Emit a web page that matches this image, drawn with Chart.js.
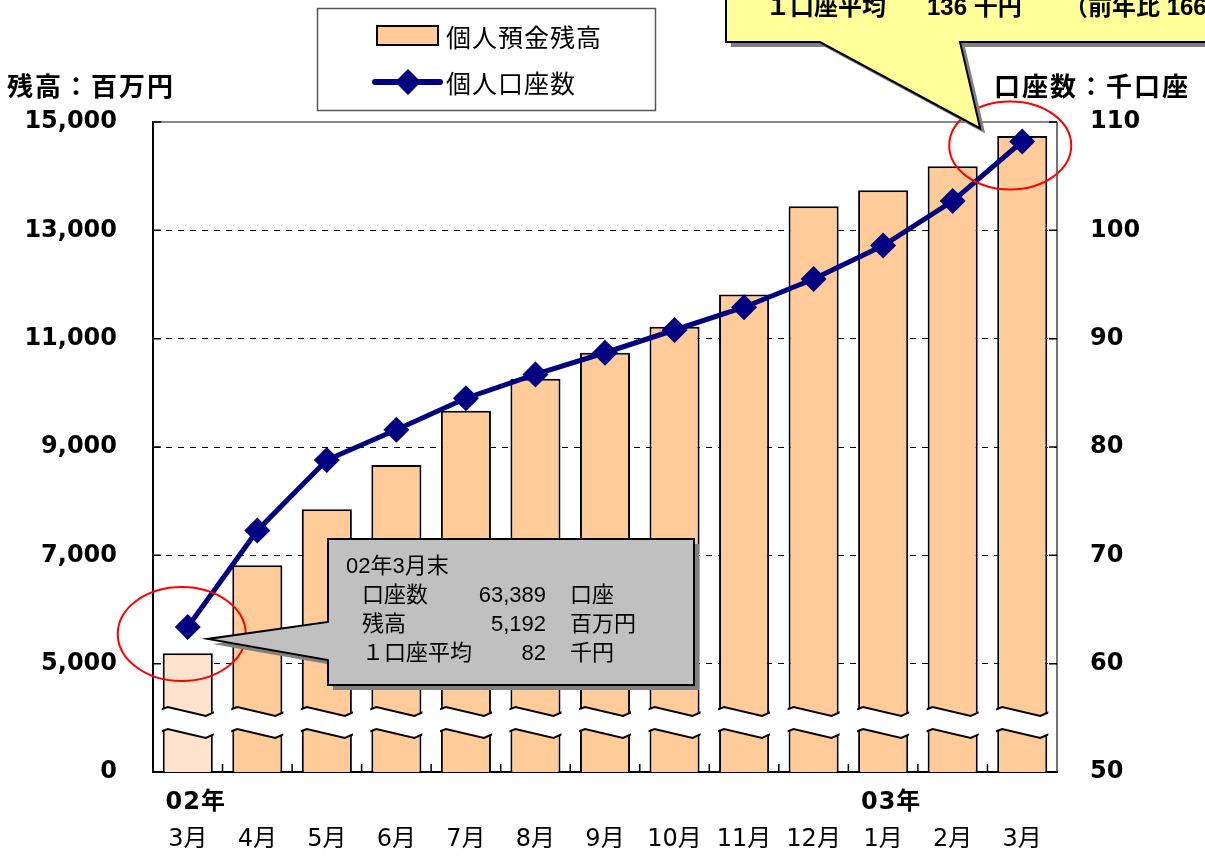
<!DOCTYPE html>
<html>
<head>
<meta charset="utf-8">
<script src="https://cdn.jsdelivr.net/npm/chart.js@4"></script>
<style>
  html, body { margin: 0; padding: 0; background: #fff; }
  canvas { display: block; }
</style>
</head>
<body>
<canvas id="myChart" width="1205" height="856"></canvas>
<script>
// monthly figures, Mar 2002 - Mar 2003
const months = ["3月", "4月", "5月", "6月", "7月", "8月", "9月", "10月", "11月", "12月", "1月", "2月", "3月"];
const years = ["02年", "", "", "", "", "", "", "", "", "", "03年", "", ""];
const balances = [5192, 6815, 7852, 8667, 9667, 10259, 10741, 11222, 11815, 13444, 13741, 14185, 14741]; // 百万円
const accounts = [63.389, 72.3, 78.8, 81.6, 84.5, 86.7, 88.7, 90.8, 92.9, 95.5, 98.6, 102.7, 108.2]; // 千口座
const leftTickLabels = ["0", "5,000", "7,000", "9,000", "11,000", "13,000", "15,000"];
const rightTickLabels = ["50", "60", "70", "80", "90", "100", "110"];

const JP = "'Noto Sans CJK JP', sans-serif";
const NUM = "'DejaVu Sans', 'Noto Sans CJK JP', sans-serif";
const TXT = "'Liberation Sans', 'Noto Sans CJK JP', sans-serif";
const NAVY = "#000080";
const PEACH = "#FFCC99";

const barColors = balances.map((v, i) => (i === 0 ? "#FDE3CD" : PEACH));

// diamond marker
function diamond(c, x, y, r) {
  c.beginPath();
  c.moveTo(x, y - r);
  c.lineTo(x + r, y);
  c.lineTo(x, y + r);
  c.lineTo(x - r, y);
  c.closePath();
  c.fill();
}

// frame, inner ticks and the wavy axis break across every bar
const breakPlugin = {
  id: "breakPlugin",
  afterDatasetsDraw(chart) {
    const c = chart.ctx;
    const a = chart.chartArea;
    const meta = chart.getDatasetMeta(1);
    const yT = a.bottom - 65;
    const gap = 22;
    c.save();
    meta.data.forEach((bar, i) => {
      const w = bar.width;
      const xL = bar.x - w / 2;
      const xR = bar.x + w / 2;
      const l = i === 0 ? a.left + 1 : xL - 8;
      const top = [[l, yT + 5], [xL + 5, yT], [xR - 7, yT + 9], [xR + 4, yT + 4]];
      const bot = top.map(p => [p[0], p[1] + gap]);
      c.fillStyle = "#fff";
      c.beginPath();
      top.forEach((p, k) => (k ? c.lineTo(p[0], p[1]) : c.moveTo(p[0], p[1])));
      for (let k = bot.length - 1; k >= 0; k--) c.lineTo(bot[k][0], bot[k][1]);
      c.closePath();
      c.fill();
      c.strokeStyle = "#000";
      c.lineWidth = 2;
      c.save();
      c.beginPath();
      c.rect(xL - 1, 0, w + 2, chart.height);
      c.clip();
      [top, bot].forEach(line => {
        c.beginPath();
        line.forEach((p, k) => (k ? c.lineTo(p[0], p[1]) : c.moveTo(p[0], p[1])));
        c.stroke();
      });
      c.restore();
    });

    // top and right frame
    c.strokeStyle = "#888";
    c.lineWidth = 2;
    c.beginPath();
    c.moveTo(a.left, a.top);
    c.lineTo(a.right, a.top);
    c.stroke();
    c.strokeStyle = "#444";
    c.lineWidth = 1.5;
    c.beginPath();
    c.moveTo(a.right, a.top);
    c.lineTo(a.right, a.bottom);
    c.stroke();

    // inner tick marks
    c.strokeStyle = "#000";
    c.lineWidth = 1.5;
    const yl = chart.scales.y;
    yl.ticks.forEach(t => {
      const y = yl.getPixelForValue(t.value);
      c.beginPath();
      c.moveTo(a.left, y);
      c.lineTo(a.left + 8, y);
      c.moveTo(a.right, y);
      c.lineTo(a.right - 8, y);
      c.stroke();
    });
    const n = months.length;
    for (let i = 1; i < n; i++) {
      const x = a.left + (a.right - a.left) * i / n;
      c.beginPath();
      c.moveTo(x, a.bottom);
      c.lineTo(x, a.bottom - 8);
      c.stroke();
    }
    c.restore();
  },
  afterDraw(chart) {
    const c = chart.ctx;
    const xs = chart.scales.x;
    const lineMeta = chart.getDatasetMeta(0);
    c.save();

    // year row under the month labels
    c.fillStyle = "#000";
    c.font = "bold 24px " + NUM;
    c.textAlign = "center";
    c.textBaseline = "middle";
    c.letterSpacing = "1px";
    years.forEach((yr, i) => {
      if (yr) c.fillText(yr, xs.getPixelForValue(i) + 8, 803);
    });

    // axis titles
    c.font = "bold 26px " + JP;
    c.textAlign = "left";
    c.letterSpacing = "2px";
    c.fillText("残高：百万円", 7, 86);
    c.fillText("口座数：千口座", 994, 86);
    c.letterSpacing = "0px";

    // legend
    c.fillStyle = "#fff";
    c.fillRect(317, 8, 338, 102);
    c.strokeStyle = "#555";
    c.lineWidth = 1.5;
    c.strokeRect(317.5, 8.5, 338, 102);
    c.fillStyle = PEACH;
    c.fillRect(377, 26, 61, 19);
    c.strokeStyle = "#000";
    c.lineWidth = 2;
    c.strokeRect(377, 26, 61, 19);
    c.strokeStyle = NAVY;
    c.lineWidth = 6;
    c.lineCap = "round";
    c.beginPath();
    c.moveTo(375, 82);
    c.lineTo(440, 82);
    c.stroke();
    c.lineCap = "butt";
    c.fillStyle = NAVY;
    diamond(c, 408, 82, 13);
    c.fillStyle = "#000";
    c.font = "25px " + JP;
    c.letterSpacing = "1px";
    c.fillText(chart.data.datasets[1].label, 446, 37);
    c.fillText(chart.data.datasets[0].label, 446, 83);
    c.letterSpacing = "0px";

    // red rings around first and last points
    const p0 = lineMeta.data[0];
    const pN = lineMeta.data[lineMeta.data.length - 1];
    c.strokeStyle = "#FF0000";
    c.lineWidth = 2;
    c.beginPath();
    c.ellipse(p0.x - 6, p0.y + 7, 64, 47, 0, 0, Math.PI * 2);
    c.stroke();
    c.beginPath();
    c.ellipse(pN.x - 12, pN.y + 4, 61, 44, 0, 0, Math.PI * 2);
    c.stroke();

    // grey call-out for 02年3月末
    const box = (pts, fill, dx, dy) => {
      c.beginPath();
      pts.forEach((p, k) => (k ? c.lineTo(p[0] + dx, p[1] + dy) : c.moveTo(p[0] + dx, p[1] + dy)));
      c.closePath();
      c.fillStyle = fill;
      c.fill();
    };
    const g = [[328, 539], [694, 539], [694, 685], [328, 685], [328, 660], [p0.x + 20, p0.y + 12], [328, 622]];
    box(g, "#808080", 5, 5);
    box(g, "#C0C0C0", 0, 0);
    c.strokeStyle = "#000";
    c.lineWidth = 2;
    c.stroke();
    c.fillStyle = "#000";
    c.font = "22px " + TXT;
    c.textAlign = "left";
    c.fillText("02年3月末", 346, 567);
    const rows = [
      ["口座数", "63,389", "口座", 596],
      ["残高", "5,192", "百万円", 625],
      ["１口座平均", "82", "千円", 654]
    ];
    rows.forEach(r => {
      c.textAlign = "left";
      c.fillText(r[0], 362, r[3]);
      c.textAlign = "right";
      c.fillText(r[1], 546, r[3]);
      c.textAlign = "left";
      c.fillText(r[2], 570, r[3]);
    });

    // yellow call-out for the latest month
    const yel = [[726, -10], [1215, -10], [1215, 42], [960, 42], [pN.x - 42, pN.y - 13], [820, 42], [726, 42]];
    box(yel, "#808080", 5, 5);
    box(yel, "#FFFF99", 0, 0);
    c.strokeStyle = "#000";
    c.lineWidth = 2;
    c.stroke();
    c.fillStyle = "#000";
    c.font = "bold 24px " + TXT;
    c.textAlign = "left";
    c.textBaseline = "alphabetic";
    c.fillText("１口座平均", 766, 15);
    c.fillText("136 千円", 927, 15);
    c.fillText("（前年比 166％）", 1064, 15);
    c.restore();
  }
};

const ctx = document.getElementById("myChart");
const myChart = new Chart(ctx, {
  type: "bar",
  data: {
    labels: months,
    datasets: [
      {
        type: "line",
        label: "個人口座数",
        data: accounts,
        yAxisID: "y1",
        borderColor: NAVY,
        backgroundColor: NAVY,
        borderWidth: 5,
        pointStyle: "rectRot",
        pointRadius: 13,
        pointBorderWidth: 0,
        tension: 0,
        order: 0
      },
      {
        label: "個人預金残高",
        data: balances,
        yAxisID: "y",
        backgroundColor: barColors,
        borderColor: "#000",
        borderWidth: 2,
        borderSkipped: "bottom",
        categoryPercentage: 1,
        barPercentage: 0.72,
        order: 1
      }
    ]
  },
  options: {
    responsive: false,
    animation: false,
    layout: { padding: { top: 122, left: 0, right: 0, bottom: 0 } },
    plugins: {
      legend: { display: false },
      tooltip: { enabled: false }
    },
    scales: {
      x: {
        grid: { display: false, drawTicks: false },
        border: { display: true, color: "#000", width: 2 },
        ticks: {
          color: "#000",
          font: { family: NUM, size: 24 },
          padding: 53,
          maxRotation: 0,
          autoSkip: false
        },
        afterFit(scale) { scale.height = 84; }
      },
      y: {
        position: "left",
        min: 3000,
        max: 15000,
        ticks: {
          stepSize: 2000,
          color: "#000",
          font: { family: NUM, size: 24, weight: "bold" },
          padding: 36,
          callback: (v, i) => leftTickLabels[i]
        },
        grid: {
          drawTicks: false,
          color: c => (c.tick && c.tick.value > 3000 && c.tick.value < 15000 ? "#000" : "rgba(0,0,0,0)"),
          lineWidth: 1
        },
        border: { display: true, color: "#000", width: 2, dash: [6, 6] },
        afterFit(scale) { scale.width = 153; }
      },
      y1: {
        position: "right",
        min: 50,
        max: 110,
        ticks: {
          stepSize: 10,
          color: "#000",
          font: { family: NUM, size: 24, weight: "bold" },
          padding: 33,
          callback: (v, i) => rightTickLabels[i]
        },
        grid: { drawOnChartArea: false, drawTicks: false },
        border: { display: false },
        afterFit(scale) { scale.width = 148; }
      }
    }
  },
  plugins: [breakPlugin]
});
</script>
</body>
</html>
